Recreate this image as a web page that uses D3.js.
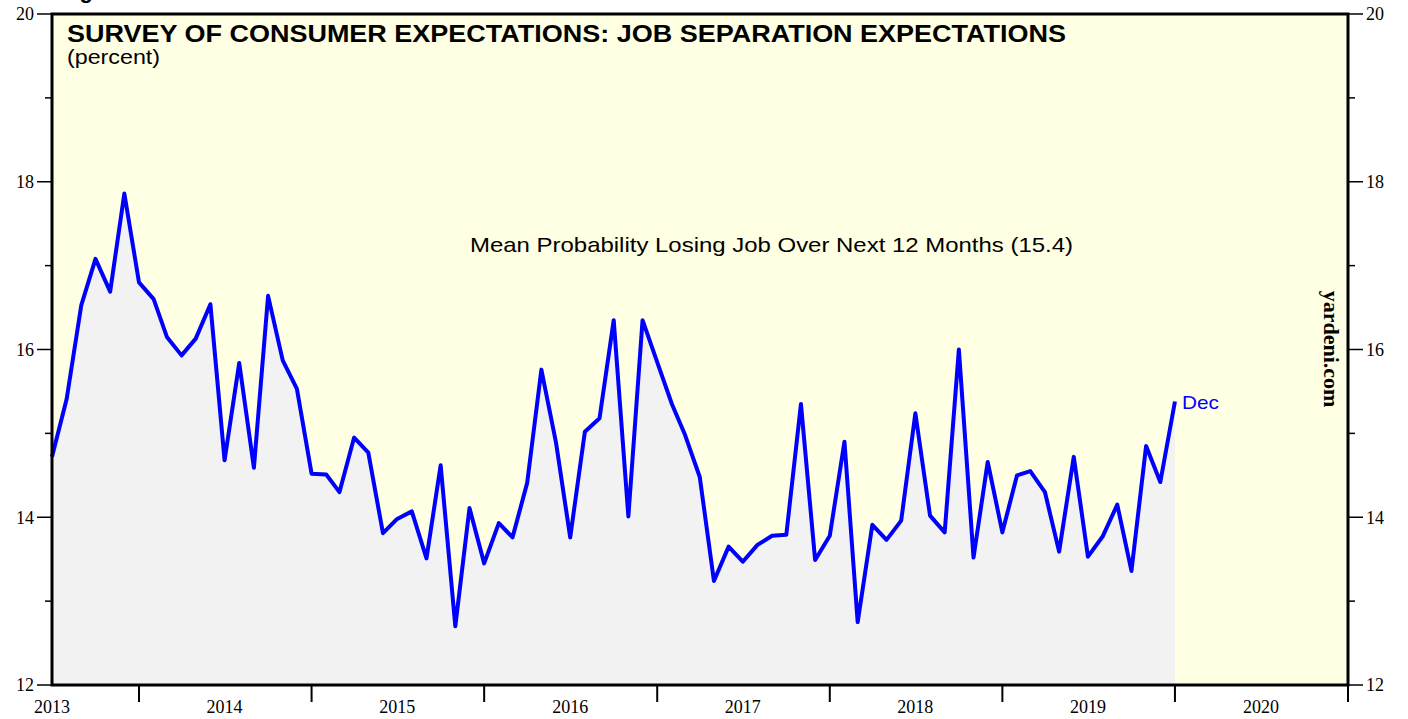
<!DOCTYPE html>
<html>
<head>
<meta charset="utf-8">
<script src="https://cdnjs.cloudflare.com/ajax/libs/d3/7.8.5/d3.min.js"></script>
<style>
  html, body { margin: 0; padding: 0; background: #fff; }
  svg { display: block; }
</style>
</head>
<body>
<svg id="chart"></svg>
<script>
'use strict';

// monthly readings, Jun 2013 .. Dec 2019 (percent)
var v2013 = [14.72, 15.41, 16.53, 17.08, 16.69, 17.86, 16.80];
var v2014 = [16.60, 16.15, 15.93, 16.13, 16.54, 14.68, 15.84, 14.59, 16.64, 15.87, 15.53, 14.52];
var v2015 = [14.51, 14.30, 14.95, 14.77, 13.81, 13.98, 14.07, 13.51, 14.62, 12.70, 14.11, 13.45];
var v2016 = [13.93, 13.76, 14.41, 15.76, 14.89, 13.76, 15.02, 15.18, 16.35, 14.01, 16.35, 15.85];
var v2017 = [15.35, 14.98, 14.48, 13.24, 13.65, 13.47, 13.67, 13.78, 13.79, 15.35, 13.49, 13.78];
var v2018 = [14.90, 12.75, 13.91, 13.73, 13.96, 15.24, 14.02, 13.82, 16.00, 13.52, 14.66, 13.82];
var v2019 = [14.50, 14.55, 14.30, 13.59, 14.72, 13.53, 13.77, 14.15, 13.36, 14.85, 14.42, 15.38];

var yearLabels = [2013, 2014, 2015, 2016, 2017, 2018, 2019, 2020];
var yTicks = [12, 13, 14, 15, 16, 17, 18, 19, 20];
var yLabels = [12, 14, 16, 18, 20];

var title = "SURVEY OF CONSUMER EXPECTATIONS: JOB SEPARATION EXPECTATIONS";
var subtitle = "(percent)";
var seriesName = "Mean Probability Losing Job Over Next 12 Months (15.4)";
var lastLabel = "Dec";

var W = 1408, H = 719;
var margin = { top: 14, right: 60, bottom: 34, left: 52 };
var width = W - margin.left - margin.right,
  height = H - margin.top - margin.bottom;

var values = [].concat(v2013, v2014, v2015, v2016, v2017, v2018, v2019);
// each reading is plotted at the end of its month
var data = values.map(function(v, i) {
  return { date: d3.timeMonth.offset(new Date(2013, 6, 1), i), value: v };
});

var svg = d3.select("#chart").attr("width", W).attr("height", H);

var x = d3.scaleTime()
  .domain([new Date(2013, 6, 1), new Date(2021, 0, 1)])
  .range([0, width]);
var y = d3.scaleLinear().domain([12, 20]).range([height, 0]);

var sans = "Liberation Sans, Arial, sans-serif";
var serif = "Liberation Serif, Times New Roman, serif";

// heading above the chart, mostly off the top edge
svg.append("text")
  .attr("x", 60).attr("y", -2)
  .style("font-family", sans)
  .style("font-weight", "bold").style("font-size", "22px")
  .text("Figure 1.");

var g = svg.append("g")
  .attr("transform", "translate(" + margin.left + "," + margin.top + ")");

g.append("rect")
  .attr("width", width).attr("height", height)
  .attr("fill", "#ffffe3");

var area = d3.area()
  .x(function(d) { return x(d.date); })
  .y0(y(12))
  .y1(function(d) { return y(d.value); });

g.append("path").datum(data)
  .attr("d", area)
  .attr("fill", "#f2f2f2");

var line = d3.line()
  .x(function(d) { return x(d.date); })
  .y(function(d) { return y(d.value); });

g.append("path").datum(data)
  .attr("d", line)
  .attr("fill", "none")
  .attr("stroke", "#0000ff")
  .attr("stroke-width", 4)
  .attr("stroke-linejoin", "round");

// frame
g.append("rect")
  .attr("width", width).attr("height", height)
  .attr("fill", "none")
  .attr("stroke", "#000")
  .attr("stroke-width", 3);

// y axes, left and right
[{ x0: 0, dir: -1, anchor: "end" },
 { x0: width, dir: 1, anchor: "start" }].forEach(function(s) {
  var ax = g.append("g");
  ax.selectAll("line").data(yTicks).enter().append("line")
    .attr("x1", s.x0)
    .attr("x2", function(d) { return s.x0 + s.dir * (d % 2 === 0 ? 15 : 7); })
    .attr("y1", function(d) { return y(d); })
    .attr("y2", function(d) { return y(d); })
    .attr("stroke", "#000").attr("stroke-width", 1.5);
  ax.selectAll("text").data(yLabels).enter().append("text")
    .attr("x", s.x0 + s.dir * 18)
    .attr("y", function(d) { return y(d); })
    .attr("dy", "0.35em")
    .attr("text-anchor", s.anchor)
    .style("font-family", serif).style("font-size", "18px")
    .text(function(d) { return d; });
});

// x axis: ticks at year boundaries, labels mid-year
var yearStarts = d3.timeYear.range(new Date(2014, 0, 1), new Date(2021, 0, 2));
g.append("g").selectAll("line").data(yearStarts).enter().append("line")
  .attr("x1", function(d) { return x(d); })
  .attr("x2", function(d) { return x(d); })
  .attr("y1", height).attr("y2", height + 17)
  .attr("stroke", "#000").attr("stroke-width", 2);

g.append("g").selectAll("text").data(yearLabels).enter().append("text")
  .attr("x", function(d) { return x(new Date(d, 6, 1)); })
  .attr("y", height + 28)
  .attr("text-anchor", "middle")
  .style("font-family", serif).style("font-size", "18px")
  .text(function(d) { return d; });

// titles (the original face is wider than Liberation Sans, so stretch)
g.append("text")
  .attr("x", 15).attr("y", 28)
  .attr("textLength", 999).attr("lengthAdjust", "spacingAndGlyphs")
  .style("font-family", sans).style("font-weight", "bold").style("font-size", "23.5px")
  .text(title);
g.append("text")
  .attr("x", 15).attr("y", 50)
  .attr("textLength", 93).attr("lengthAdjust", "spacingAndGlyphs")
  .style("font-family", sans).style("font-size", "20px")
  .text(subtitle);

g.append("text")
  .attr("x", 418).attr("y", 238)
  .attr("textLength", 603).attr("lengthAdjust", "spacingAndGlyphs")
  .style("font-family", sans).style("font-size", "21px")
  .text(seriesName);

var last = data[data.length - 1];
g.append("text")
  .attr("x", x(last.date) + 7).attr("y", y(last.value) + 7)
  .attr("textLength", 37).attr("lengthAdjust", "spacingAndGlyphs")
  .attr("fill", "#0000ff")
  .style("font-family", sans).style("font-size", "19px")
  .text(lastLabel);

g.append("text")
  .attr("transform", "translate(" + (width - 24) + "," + 335 + ") rotate(90)")
  .attr("text-anchor", "middle")
  .style("font-family", serif).style("font-weight", "bold").style("font-size", "22px")
  .text("yardeni.com");
</script>
</body>
</html>
